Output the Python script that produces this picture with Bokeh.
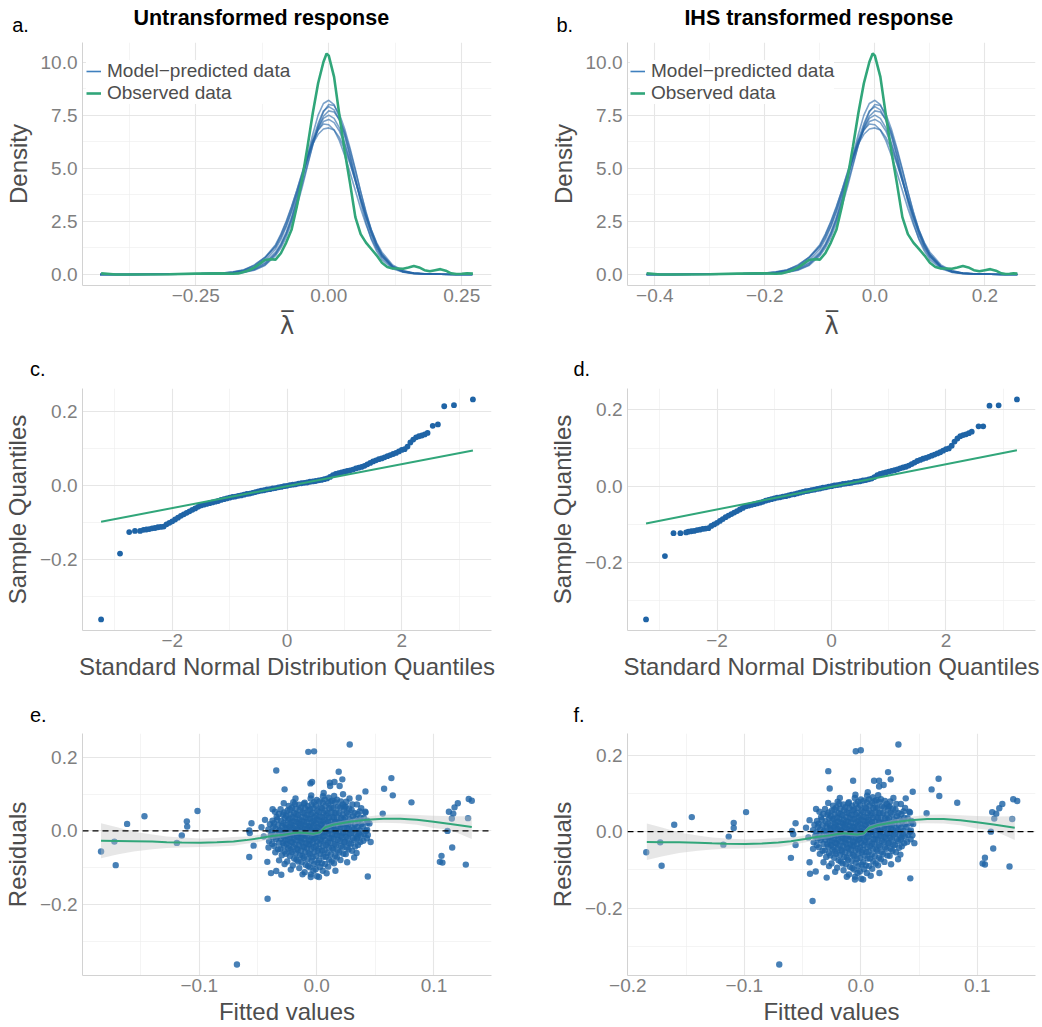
from bokeh.plotting import figure
from bokeh.layouts import column, row
from bokeh.models import (Range1d, FixedTicker, CustomJSTickFormatter,
                          Legend, LegendItem, Span)
from bokeh.core.properties import value
from bokeh.embed import file_html
from bokeh.resources import INLINE

# ---------------- data: density panels ----------------
obs_x_a = [-0.428, -0.40, -0.30, -0.25, -0.20, -0.18, -0.17, -0.16, -0.15, -0.14, -0.13, -0.12, -0.11,
           -0.10, -0.09, -0.08, -0.07, -0.06, -0.05, -0.04, -0.03, -0.02, -0.01, -0.004, 0.0, 0.01,
           0.02, 0.03, 0.04, 0.05, 0.06, 0.07, 0.08, 0.09, 0.10, 0.11, 0.12, 0.13, 0.14, 0.15, 0.16,
           0.17, 0.18, 0.19, 0.20, 0.21, 0.22, 0.23, 0.24, 0.25, 0.26, 0.271]
obs_x_b = [-0.415, -0.39, -0.30, -0.25, -0.20, -0.18, -0.17, -0.16, -0.15, -0.14, -0.13, -0.12, -0.11,
           -0.10, -0.09, -0.08, -0.07, -0.06, -0.05, -0.04, -0.03, -0.02, -0.01, -0.004, 0.0, 0.01,
           0.02, 0.03, 0.04, 0.05, 0.06, 0.07, 0.08, 0.09, 0.10, 0.11, 0.12, 0.13, 0.14, 0.15, 0.16,
           0.17, 0.18, 0.19, 0.20, 0.21, 0.22, 0.23, 0.238, 0.245, 0.252, 0.259]
obs_y = [0.05, 0.0, 0.01, 0.04, 0.05, 0.03, 0.05, 0.12, 0.2, 0.32, 0.5, 0.68, 0.72, 0.7, 1.0, 1.5,
         2.1, 3.2, 4.5, 6.0, 7.6, 9.0, 10.0, 10.4, 10.3, 9.3, 7.5, 5.8, 4.3, 2.7, 1.9, 1.5, 1.2, 0.9,
         0.55, 0.35, 0.28, 0.28, 0.27, 0.33, 0.4, 0.33, 0.2, 0.15, 0.2, 0.25, 0.18, 0.05, 0.02, 0.03,
         0.05, 0.04]

model_x_a = [-0.43, -0.38, -0.33, -0.28, -0.24, -0.20, -0.18, -0.16, -0.14, -0.12, -0.10, -0.09, -0.08,
             -0.07, -0.06, -0.05, -0.04, -0.03, -0.02, -0.01, 0.0, 0.01, 0.02, 0.03, 0.04, 0.05, 0.06,
             0.07, 0.08, 0.09, 0.10, 0.12, 0.14, 0.16, 0.18, 0.21, 0.24, 0.27]
model_x_b = [-0.415, -0.37, -0.33, -0.28, -0.24, -0.20, -0.18, -0.16, -0.14, -0.12, -0.10, -0.09, -0.08,
             -0.07, -0.06, -0.05, -0.04, -0.03, -0.02, -0.01, 0.0, 0.01, 0.02, 0.03, 0.04, 0.05, 0.06,
             0.07, 0.08, 0.09, 0.10, 0.12, 0.14, 0.16, 0.18, 0.21, 0.235, 0.259]
model_y1 = [0.0, 0.0, 0.01, 0.01, 0.02, 0.04, 0.06, 0.11, 0.22, 0.45, 0.95, 1.35, 1.9, 2.6, 3.5, 4.5, 5.6,
            6.6, 7.5, 8.05, 8.2, 8.0, 7.4, 6.6, 5.6, 4.5, 3.4, 2.45, 1.65, 1.1, 0.7, 0.27, 0.1, 0.04,
            0.02, 0.01, 0.0, 0.0]
model_y2 = [0.0, 0.0, 0.0, 0.01, 0.03, 0.05, 0.08, 0.14, 0.28, 0.55, 1.05, 1.45, 2.0, 2.7, 3.55, 4.5, 5.45,
            6.35, 7.1, 7.7, 7.9, 7.75, 7.25, 6.5, 5.6, 4.6, 3.6, 2.7, 1.9, 1.3, 0.85, 0.33, 0.12, 0.05,
            0.02, 0.01, 0.0, 0.0]
model_y3 = [0.0, 0.0, 0.01, 0.02, 0.03, 0.05, 0.07, 0.12, 0.25, 0.5, 0.98, 1.38, 1.9, 2.55, 3.35, 4.25,
            5.2, 6.1, 6.9, 7.45, 7.7, 7.65, 7.3, 6.7, 5.85, 4.9, 3.9, 2.95, 2.1, 1.45, 0.95, 0.38, 0.15,
            0.06, 0.03, 0.01, 0.0, 0.0]
model_y4 = [0.0, 0.0, 0.0, 0.01, 0.02, 0.05, 0.09, 0.17, 0.33, 0.65, 1.2, 1.65, 2.25, 2.95, 3.75, 4.6,
            5.45, 6.25, 6.9, 7.35, 7.5, 7.35, 6.9, 6.2, 5.35, 4.4, 3.5, 2.65, 1.9, 1.3, 0.87, 0.36, 0.14,
            0.06, 0.03, 0.01, 0.0, 0.0]
model_y5 = [0.0, 0.0, 0.01, 0.01, 0.03, 0.06, 0.1, 0.2, 0.45, 0.8, 1.3, 1.75, 2.3, 3.0, 3.8, 4.65, 5.45,
            6.2, 6.8, 7.2, 7.3, 7.15, 6.75, 6.1, 5.3, 4.45, 3.55, 2.75, 2.0, 1.4, 0.95, 0.4, 0.16, 0.07,
            0.03, 0.01, 0.0, 0.0]
model_y6 = [0.0, 0.0, 0.01, 0.02, 0.04, 0.07, 0.11, 0.2, 0.38, 0.75, 1.35, 1.85, 2.45, 3.15, 3.95, 4.8,
            5.6, 6.3, 6.8, 7.08, 7.05, 6.8, 6.3, 5.6, 4.8, 3.95, 3.1, 2.35, 1.7, 1.2, 0.8, 0.33, 0.13,
            0.05, 0.02, 0.01, 0.0, 0.0]
model_y7 = [0.0, 0.0, 0.01, 0.02, 0.04, 0.07, 0.12, 0.22, 0.42, 0.8, 1.4, 1.9, 2.5, 3.2, 3.95, 4.75,
            5.5, 6.15, 6.6, 6.85, 6.9, 6.8, 6.45, 5.9, 5.2, 4.4, 3.6, 2.8, 2.1, 1.5, 1.05, 0.45, 0.18,
            0.07, 0.03, 0.01, 0.0, 0.0]
model_y8 = [0.0, 0.0, 0.0, 0.01, 0.02, 0.03, 0.05, 0.09, 0.2, 0.42, 0.88, 1.25, 1.75, 2.4, 3.2, 4.1,
            5.1, 6.1, 7.0, 7.65, 8.0, 7.95, 7.55, 6.85, 5.95, 4.95, 3.9, 2.9, 2.05, 1.4, 0.92, 0.36,
            0.13, 0.05, 0.02, 0.01, 0.0, 0.0]
model_curves = [model_y1, model_y2, model_y3, model_y4, model_y5, model_y6, model_y7, model_y8]

# ---------------- data: QQ panels ----------------
qq_q = [-2.50, -2.45, -2.40, -2.35, -2.30, -2.25, -2.20, -2.15, -2.10, -2.05,
        -2.00, -1.95, -1.90, -1.85, -1.80, -1.75, -1.70, -1.65, -1.60, -1.55,
        -1.50, -1.45, -1.40, -1.35, -1.30, -1.25, -1.20, -1.15, -1.10, -1.05,
        -1.00, -0.95, -0.90, -0.85, -0.80, -0.75, -0.70, -0.65, -0.60, -0.55,
        -0.50, -0.45, -0.40, -0.35, -0.30, -0.25, -0.20, -0.15, -0.10, -0.05,
        0.00, 0.05, 0.10, 0.15, 0.20, 0.25, 0.30, 0.35, 0.40, 0.45,
        0.50, 0.55, 0.60, 0.65, 0.70, 0.75, 0.80, 0.85, 0.90, 0.95,
        1.00, 1.05, 1.10, 1.15, 1.20, 1.25, 1.30, 1.35, 1.40, 1.45,
        1.50, 1.55, 1.60, 1.65, 1.70, 1.75, 1.80, 1.85, 1.90, 1.95,
        2.00, 2.05, 2.10, 2.15, 2.20, 2.25, 2.30, 2.35, 2.40, 2.45]
qq_s = [-0.119, -0.118, -0.117, -0.115, -0.114, -0.112, -0.111, -0.110, -0.104, -0.100,
        -0.096, -0.091, -0.086, -0.081, -0.077, -0.073, -0.069, -0.065, -0.061, -0.057,
        -0.053, -0.051, -0.049, -0.047, -0.045, -0.043, -0.041, -0.038, -0.036, -0.034,
        -0.032, -0.030, -0.029, -0.027, -0.026, -0.024, -0.022, -0.021, -0.019, -0.017,
        -0.015, -0.013, -0.012, -0.010, -0.009, -0.007, -0.006, -0.004, -0.003, -0.001,
        0.000, 0.002, 0.003, 0.004, 0.006, 0.007, 0.008, 0.009, 0.011, 0.012,
        0.013, 0.015, 0.016, 0.018, 0.020, 0.024, 0.029, 0.032, 0.034, 0.036,
        0.038, 0.040, 0.042, 0.044, 0.047, 0.049, 0.051, 0.054, 0.058, 0.062,
        0.066, 0.069, 0.072, 0.074, 0.077, 0.080, 0.083, 0.086, 0.089, 0.093,
        0.097, 0.099, 0.106, 0.117, 0.125, 0.131, 0.134, 0.136, 0.139, 0.143]
qq_c_tail_q = [-3.24, -2.91, -2.75, -2.65, -2.56, 2.54, 2.63, 2.74, 2.91, 3.24]
qq_c_tail_s = [-0.361, -0.183, -0.125, -0.122, -0.122, 0.162, 0.166, 0.215, 0.218, 0.2335]
qq_d_tail_q = [-3.24, -2.91, -2.76, -2.64, -2.54, 2.57, 2.65, 2.76, 2.92, 3.24]
qq_d_tail_s = [-0.349, -0.183, -0.123, -0.123, -0.121, 0.157, 0.157, 0.211, 0.212, 0.2275]
qq_line_q = [-3.24, 3.24]
qq_line_c = [-0.097, 0.0955]
qq_line_d = [-0.0975, 0.094]

# ---------------- data: residual panels ----------------
resid_cloud = [
    (-0.0405, -0.028), (-0.0392, -0.012), (-0.0411, 0.004), (-0.0398, 0.018),
    (-0.0352, -0.058), (-0.0361, -0.041), (-0.0346, -0.022), (-0.0357, -0.008), (-0.0349, 0.006),
    (-0.0363, 0.021), (-0.0341, 0.038), (-0.0355, 0.052),
    (-0.0297, -0.066), (-0.0309, -0.049), (-0.0288, -0.033), (-0.0304, -0.021), (-0.0292, -0.009),
    (-0.0311, 0.002), (-0.0295, 0.013), (-0.0302, 0.027), (-0.0286, 0.044), (-0.0307, 0.059),
    (-0.0251, -0.083), (-0.0262, -0.062), (-0.0243, -0.047), (-0.0256, -0.035), (-0.0247, -0.024),
    (-0.0259, -0.013), (-0.0241, -0.004), (-0.0254, 0.006), (-0.0263, 0.016), (-0.0245, 0.029),
    (-0.0258, 0.041), (-0.0249, 0.055), (-0.0238, 0.068),
    (-0.0203, -0.094), (-0.0191, -0.075), (-0.0212, -0.058), (-0.0198, -0.044), (-0.0207, -0.031),
    (-0.0194, -0.021), (-0.0209, -0.011), (-0.0188, -0.002), (-0.0201, 0.008), (-0.0214, 0.017),
    (-0.0196, 0.026), (-0.0205, 0.037), (-0.0192, 0.049), (-0.0210, 0.063), (-0.0199, 0.078),
    (-0.0148, -0.101), (-0.0157, -0.083), (-0.0143, -0.066), (-0.0161, -0.052), (-0.0152, -0.038),
    (-0.0139, -0.027), (-0.0155, -0.017), (-0.0146, -0.007), (-0.0160, 0.003), (-0.0141, 0.012),
    (-0.0153, 0.021), (-0.0147, 0.031), (-0.0158, 0.043), (-0.0144, 0.056), (-0.0151, 0.071),
    (-0.0102, -0.112), (-0.0093, -0.092), (-0.0109, -0.073), (-0.0097, -0.057), (-0.0106, -0.044),
    (-0.0091, -0.033), (-0.0104, -0.022), (-0.0096, -0.012), (-0.0110, -0.003), (-0.0099, 0.006),
    (-0.0092, 0.015), (-0.0107, 0.025), (-0.0095, 0.036), (-0.0103, 0.048), (-0.0098, 0.062),
    (-0.0108, 0.074),
    (-0.0049, -0.118), (-0.0058, -0.099), (-0.0043, -0.081), (-0.0055, -0.064), (-0.0046, -0.049),
    (-0.0061, -0.037), (-0.0052, -0.026), (-0.0041, -0.016), (-0.0057, -0.006), (-0.0048, 0.003),
    (-0.0059, 0.012), (-0.0044, 0.022), (-0.0053, 0.033), (-0.0047, 0.045), (-0.0056, 0.058),
    (-0.0042, 0.072), (-0.0051, 0.088),
    (0.0003, -0.123), (-0.0008, -0.104), (0.0007, -0.086), (-0.0004, -0.069), (0.0009, -0.054),
    (-0.0006, -0.041), (0.0002, -0.029), (-0.0009, -0.018), (0.0005, -0.008), (-0.0003, 0.002),
    (0.0008, 0.011), (-0.0007, 0.021), (0.0004, 0.031), (-0.0002, 0.042), (0.0006, 0.055),
    (-0.0005, 0.069), (0.0001, 0.084),
    (0.0052, -0.108), (0.0044, -0.088), (0.0058, -0.070), (0.0047, -0.054), (0.0056, -0.040),
    (0.0041, -0.027), (0.0053, -0.015), (0.0046, -0.004), (0.0059, 0.006), (0.0043, 0.016),
    (0.0055, 0.026), (0.0049, 0.037), (0.0057, 0.049), (0.0045, 0.062), (0.0051, 0.077),
    (0.0054, 0.094),
    (0.0098, -0.097), (0.0107, -0.078), (0.0093, -0.060), (0.0104, -0.045), (0.0096, -0.031),
    (0.0109, -0.019), (0.0101, -0.008), (0.0092, 0.003), (0.0106, 0.014), (0.0097, 0.025),
    (0.0103, 0.036), (0.0094, 0.048), (0.0108, 0.061), (0.0099, 0.075), (0.0102, 0.090),
    (0.0148, -0.088), (0.0157, -0.068), (0.0143, -0.051), (0.0154, -0.036), (0.0146, -0.022),
    (0.0159, -0.010), (0.0151, 0.002), (0.0142, 0.013), (0.0156, 0.024), (0.0147, 0.036),
    (0.0153, 0.049), (0.0144, 0.063), (0.0158, 0.078), (0.0149, 0.095),
    (0.0203, -0.079), (0.0194, -0.058), (0.0208, -0.041), (0.0197, -0.027), (0.0206, -0.014),
    (0.0191, -0.002), (0.0204, 0.010), (0.0196, 0.022), (0.0209, 0.035), (0.0193, 0.049),
    (0.0201, 0.064), (0.0207, 0.080),
    (0.0248, -0.063), (0.0257, -0.045), (0.0243, -0.030), (0.0254, -0.016), (0.0246, -0.004),
    (0.0259, 0.008), (0.0251, 0.021), (0.0242, 0.035), (0.0256, 0.050), (0.0247, 0.066),
    (0.0253, 0.079),
    (0.0302, -0.054), (0.0293, -0.035), (0.0307, -0.019), (0.0296, -0.005), (0.0304, 0.009),
    (0.0291, 0.024), (0.0309, 0.040), (0.0298, 0.057), (0.0305, 0.072),
    (0.0352, -0.038), (0.0344, -0.021), (0.0358, -0.006), (0.0347, 0.010), (0.0355, 0.027),
    (0.0349, 0.046),
    (0.0398, -0.027), (0.0406, -0.009), (0.0393, 0.012), (0.0402, 0.035),
]
resid_core = [
    (-0.0378, -0.035), (-0.0371, -0.018), (-0.0382, -0.002), (-0.0369, 0.012), (-0.0376, 0.028),
    (-0.0328, -0.050), (-0.0321, -0.032), (-0.0333, -0.015), (-0.0319, 0.000), (-0.0327, 0.016),
    (-0.0335, 0.031), (-0.0322, 0.046),
    (-0.0272, -0.056), (-0.0279, -0.040), (-0.0268, -0.027), (-0.0281, -0.015), (-0.0274, -0.003),
    (-0.0266, 0.009), (-0.0283, 0.021), (-0.0271, 0.035), (-0.0277, 0.050),
    (-0.0228, -0.068), (-0.0221, -0.052), (-0.0233, -0.040), (-0.0219, -0.029), (-0.0226, -0.018),
    (-0.0231, -0.007), (-0.0218, 0.003), (-0.0229, 0.012), (-0.0222, 0.022), (-0.0234, 0.033),
    (-0.0224, 0.045), (-0.0227, 0.058),
    (-0.0172, -0.078), (-0.0179, -0.061), (-0.0168, -0.048), (-0.0181, -0.036), (-0.0174, -0.025),
    (-0.0166, -0.015), (-0.0183, -0.005), (-0.0171, 0.005), (-0.0177, 0.014), (-0.0169, 0.024),
    (-0.0182, 0.034), (-0.0173, 0.046), (-0.0178, 0.060),
    (-0.0128, -0.085), (-0.0121, -0.068), (-0.0133, -0.054), (-0.0119, -0.042), (-0.0126, -0.031),
    (-0.0131, -0.020), (-0.0118, -0.010), (-0.0129, 0.000), (-0.0122, 0.009), (-0.0134, 0.018),
    (-0.0124, 0.027), (-0.0127, 0.038), (-0.0120, 0.050), (-0.0132, 0.064),
    (-0.0072, -0.095), (-0.0079, -0.077), (-0.0068, -0.061), (-0.0081, -0.048), (-0.0074, -0.036),
    (-0.0066, -0.025), (-0.0083, -0.015), (-0.0071, -0.005), (-0.0077, 0.004), (-0.0069, 0.013),
    (-0.0082, 0.023), (-0.0073, 0.033), (-0.0078, 0.044), (-0.0070, 0.056), (-0.0076, 0.068),
    (-0.0028, -0.108), (-0.0021, -0.090), (-0.0033, -0.072), (-0.0019, -0.057), (-0.0026, -0.044),
    (-0.0031, -0.032), (-0.0018, -0.021), (-0.0029, -0.011), (-0.0022, -0.001), (-0.0034, 0.008),
    (-0.0024, 0.017), (-0.0027, 0.027), (-0.0020, 0.037), (-0.0032, 0.049), (-0.0025, 0.062),
    (-0.0023, 0.078),
    (0.0028, -0.098), (0.0021, -0.080), (0.0033, -0.063), (0.0019, -0.048), (0.0026, -0.035),
    (0.0031, -0.023), (0.0018, -0.012), (0.0029, -0.002), (0.0022, 0.008), (0.0034, 0.018),
    (0.0024, 0.028), (0.0027, 0.039), (0.0020, 0.051), (0.0032, 0.064), (0.0025, 0.080),
    (0.0072, -0.090), (0.0079, -0.070), (0.0068, -0.053), (0.0081, -0.038), (0.0074, -0.025),
    (0.0066, -0.013), (0.0083, -0.002), (0.0071, 0.009), (0.0077, 0.020), (0.0069, 0.031),
    (0.0082, 0.042), (0.0073, 0.055), (0.0078, 0.069), (0.0070, 0.085),
    (0.0128, -0.083), (0.0121, -0.064), (0.0133, -0.047), (0.0119, -0.033), (0.0126, -0.020),
    (0.0131, -0.008), (0.0118, 0.004), (0.0129, 0.015), (0.0122, 0.026), (0.0134, 0.038),
    (0.0124, 0.050), (0.0127, 0.064), (0.0120, 0.080),
    (0.0172, -0.072), (0.0179, -0.053), (0.0168, -0.038), (0.0181, -0.024), (0.0174, -0.011),
    (0.0166, 0.001), (0.0183, 0.013), (0.0171, 0.024), (0.0177, 0.036), (0.0169, 0.050),
    (0.0182, 0.066), (0.0173, 0.085),
    (0.0228, -0.062), (0.0221, -0.045), (0.0233, -0.030), (0.0219, -0.017), (0.0226, -0.005),
    (0.0231, 0.007), (0.0218, 0.019), (0.0229, 0.031), (0.0222, 0.044), (0.0234, 0.058),
    (0.0224, 0.072),
    (0.0272, -0.050), (0.0279, -0.034), (0.0268, -0.020), (0.0281, -0.007), (0.0274, 0.005),
    (0.0266, 0.018), (0.0283, 0.031), (0.0271, 0.045), (0.0277, 0.060),
    (0.0328, -0.042), (0.0321, -0.025), (0.0333, -0.010), (0.0319, 0.004), (0.0326, 0.018),
    (0.0331, 0.033), (0.0322, 0.049),
    (0.0372, -0.030), (0.0379, -0.013), (0.0368, 0.002), (0.0381, 0.019), (0.0374, 0.036),
    (0.0428, -0.020), (0.0421, 0.000), (0.0433, 0.022),
]
resid_fringe = [
    (0.0196, 0.122), (-0.0046, 0.0965), (0.006, 0.103), (0.0134, 0.082), (0.0236, 0.066),
    (0.0344, 0.072), (0.0367, 0.053), (0.0415, 0.052), (0.043, 0.003), (0.035, -0.015),
    (-0.0273, -0.090), (-0.022, -0.105), (-0.012, -0.118), (-0.005, -0.125), (0.002, -0.125),
    (0.0085, -0.115), (0.016, -0.108), (0.026, -0.085), (0.034, -0.060), (0.046, -0.030),
    (0.045, 0.020), (-0.045, -0.015), (-0.047, 0.010), (-0.044, 0.030), (-0.041, -0.045),
    (-0.032, -0.080), (-0.028, 0.075), (-0.018, 0.088), (0.028, 0.088), (0.032, -0.072),
    (0.038, 0.062), (-0.0185, 0.073), (-0.0102, 0.0767),
]
resid_e_out = [
    (-0.1837, -0.056), (-0.1723, -0.029), (-0.1712, -0.093), (-0.1615, 0.019), (-0.1467, 0.040),
    (-0.1191, -0.0325), (-0.1149, -0.0126), (-0.1106, 0.026), (-0.1103, 0.0117), (-0.1015, 0.054),
    (-0.0574, -0.071), (-0.0574, 0.001), (-0.057, -0.006), (-0.0555, 0.021), (-0.0537, -0.040),
    (-0.0679, -0.3627), (-0.0418, -0.184), (-0.042, -0.084), (-0.0389, -0.1145), (-0.0344, -0.109),
    (-0.0301, -0.119), (-0.0344, 0.164), (-0.0273, 0.1128), (-0.0375, 0.0587), (-0.0071, 0.2147),
    (-0.0022, 0.216), (0.0282, 0.2346), (0.0188, 0.1606), (0.0219, 0.140), (-0.0053, 0.129),
    (-0.0039, 0.133), (0.0112, 0.131), (0.0152, 0.133), (0.0115, 0.122), (0.0416, 0.1073),
    (0.0359, 0.090), (0.0225, 0.0995), (0.0637, 0.1434), (0.0575, 0.1146), (0.0649, 0.0965),
    (0.0808, 0.0776), (0.0563, 0.047), (0.0416, 0.0497), (0.043, 0.028), (0.0436, -0.011),
    (0.0436, -0.1236), (0.1127, 0.052), (0.1164, 0.047), (0.1175, 0.064), (0.1203, 0.075),
    (0.1152, 0.0335), (0.1115, 0.0), (0.1155, -0.045), (0.1064, -0.0677), (0.105, -0.084),
    (0.1072, -0.086), (0.1271, -0.0915), (0.1296, 0.0866), (0.1322, 0.082), (0.129, 0.0347),
]
resid_f_out = [
    (-0.1842, -0.054), (-0.1722, -0.028), (-0.171, -0.089), (-0.1602, 0.018), (-0.1451, 0.038),
    (-0.118, -0.034), (-0.1134, -0.013), (-0.1091, 0.023), (-0.1091, 0.0094), (-0.0985, 0.051),
    (-0.060, -0.0685), (-0.059, 0.002), (-0.058, -0.007), (-0.056, 0.022), (-0.056, -0.035),
    (-0.070, -0.347), (-0.0414, -0.181), (-0.044, -0.080), (-0.0436, -0.110), (-0.0387, -0.104),
    (-0.0293, -0.120), (-0.0279, 0.158), (-0.0267, 0.1125), (-0.0384, 0.059), (-0.0043, 0.210),
    (0.0, 0.2125), (0.0323, 0.2276), (0.0234, 0.1555), (0.0257, 0.1365), (-0.0066, 0.133),
    (0.0114, 0.133), (0.0157, 0.133), (0.0157, 0.118), (0.0446, 0.104), (0.0386, 0.087),
    (0.0608, 0.1103), (0.0668, 0.138), (0.0674, 0.093), (0.0828, 0.0756), (0.0565, 0.048),
    (0.0422, 0.050), (0.0434, 0.028), (0.0443, -0.0095), (0.0425, -0.122), (0.1128, 0.051),
    (0.1163, 0.047), (0.1189, 0.061), (0.1215, 0.072), (0.1146, 0.034), (0.1117, 0.0),
    (0.1137, -0.044), (0.1066, -0.068), (0.1046, -0.083), (0.1066, -0.086), (0.1277, -0.091),
    (0.1309, 0.0845), (0.1343, 0.080), (0.130, 0.033),
]
smooth_x = [-0.1837, -0.170, -0.156, -0.140, -0.1277, -0.115, -0.099, -0.085, -0.0708, -0.060, -0.048,
            -0.038, -0.0281, -0.020, -0.014, -0.008, -0.003, 0.0028, 0.0071, 0.0142, 0.020, 0.0285,
            0.0427, 0.057, 0.0712, 0.0854, 0.0997, 0.114, 0.1322]
smooth_y = [-0.027, -0.0275, -0.028, -0.029, -0.0305, -0.0315, -0.032, -0.031, -0.0285, -0.025, -0.0194,
            -0.014, -0.0104, -0.006, -0.004, -0.006, -0.0077, -0.004, 0.0095, 0.0167, 0.020, 0.0248,
            0.030, 0.0329, 0.0329, 0.030, 0.0248, 0.0185, 0.0104]
smooth_lo = [-0.074, -0.064, -0.056, -0.050, -0.0465, -0.045, -0.044, -0.0425, -0.0405, -0.035, -0.0285,
             -0.022, -0.017, -0.012, -0.010, -0.012, -0.013, -0.010, 0.003, 0.011, 0.014, 0.0175,
             0.021, 0.022, 0.021, 0.017, 0.008, 0.0027, -0.022]
smooth_hi = [0.021, 0.010, -0.002, -0.010, -0.015, -0.018, -0.0205, -0.0195, -0.0165, -0.015, -0.010,
             -0.006, -0.004, 0.000, 0.002, 0.000, -0.002, 0.002, 0.016, 0.0225, 0.026, 0.032, 0.039,
             0.044, 0.045, 0.043, 0.041, 0.0397, 0.040]

panel_letters = ["a.", "b.", "c.", "d.", "e.", "f."]
panel_titles = ["Untransformed response", "IHS transformed response"]

# ---------------- styling ----------------
FONT = "Liberation Sans"
GREEN = "#31a67a"
BAND = "#2766a6"
PT = "#1f64a6"
LAMBDA = "\u03bb\u0305"
NAN = float("nan")


def fmt(n):
    return CustomJSTickFormatter(
        code="return (tick < -1e-9 ? '\\u2212' : '') + Math.abs(tick).toFixed(%d);" % n)


def header(h, letters, lx, ly, titles=(), tx=(), ty=()):
    p = figure(width=1042, height=h, output_backend="svg", toolbar_location=None, title=None,
               x_range=Range1d(0, 1042), y_range=Range1d(h, 0),
               x_axis_location=None, y_axis_location=None,
               min_border_left=0, min_border_right=0, min_border_top=0, min_border_bottom=0)
    p.grid.visible = False
    p.outline_line_color = None
    p.text(x=lx, y=ly, text=letters, text_font=value(FONT), text_font_size="20px",
           text_color="black", text_baseline="alphabetic", text_align="left")
    if titles:
        p.text(x=list(tx), y=list(ty), text=list(titles), text_font=value(FONT),
               text_font_size="21.5px", text_font_style="bold", text_color="black",
               text_baseline="alphabetic", text_align="center")
    return p


def make_fig(w, h, bl, br, bb, xr, yr, xt, xm, yt, ym, xd, yd, xlab, ylab):
    p = figure(width=w, height=h, output_backend="svg", toolbar_location=None,
               x_range=Range1d(*xr), y_range=Range1d(*yr),
               min_border_left=bl, min_border_right=br, min_border_top=0, min_border_bottom=bb)
    p.outline_line_color = None
    p.background_fill_color = "white"
    p.border_fill_color = "white"
    p.xaxis.ticker = FixedTicker(ticks=xt, minor_ticks=xm)
    p.yaxis.ticker = FixedTicker(ticks=yt, minor_ticks=ym)
    p.xaxis.formatter = fmt(xd)
    p.yaxis.formatter = fmt(yd)
    for ax in (p.xaxis[0], p.yaxis[0]):
        ax.major_tick_line_color = None
        ax.minor_tick_line_color = None
        ax.major_tick_out = 0
        ax.major_tick_in = 0
        ax.minor_tick_out = 0
        ax.minor_tick_in = 0
        ax.axis_line_color = "#d2d2d2"
        ax.axis_line_width = 1
        ax.major_label_text_font = FONT
        ax.major_label_text_font_size = "19px"
        ax.major_label_text_color = "#7f7f7f"
        ax.axis_label_text_font = FONT
        ax.axis_label_text_font_size = "24px"
        ax.axis_label_text_font_style = "normal"
        ax.axis_label_text_color = "#4d4d4d"
    p.xaxis.major_label_standoff = 3
    p.yaxis.major_label_standoff = 5
    p.xaxis.axis_label_standoff = 3
    p.yaxis.axis_label_standoff = 6
    p.xaxis.axis_label = xlab
    p.yaxis.axis_label = ylab
    for g in (p.xgrid[0], p.ygrid[0]):
        g.grid_line_color = "#e6e6e6"
        g.grid_line_width = 1.1
        g.minor_grid_line_color = "#ededed"
        g.minor_grid_line_width = 0.6
    return p


def density_panel(w, bl, br, xr, xt, xm, xd, mx, ox, legx):
    p = make_fig(w, 303, bl, br, 60, xr, (-0.52, 10.92), xt, xm,
                 [0, 2.5, 5, 7.5, 10], [1.25, 3.75, 6.25, 8.75], xd, 1, LAMBDA, "Density")
    p.xaxis.axis_label_text_font = "DejaVu Sans"
    p.xaxis.axis_label_standoff = 7
    for ys in model_curves:
        p.line(mx, ys, line_color=BAND, line_alpha=0.6, line_width=1.6)
    r2 = p.line(ox, obs_y, line_color=GREEN, line_width=2.6)
    r1 = p.line([NAN], [NAN], line_color="#3f80be", line_width=1.6)
    leg = Legend(items=[LegendItem(label="Model\u2212predicted data", renderers=[r1]),
                        LegendItem(label="Observed data", renderers=[r2])],
                 location=(legx, 181), background_fill_color="white", background_fill_alpha=1.0,
                 border_line_color=None, label_text_font=FONT, label_text_font_size="19px",
                 label_text_color="#4d4d4d", glyph_width=15, glyph_height=20, label_height=20,
                 spacing=0, padding=7, margin=0, label_standoff=6)
    p.add_layout(leg)
    return p


pa = density_panel(520, 82, 29, (-0.463, 0.306), [-0.25, 0, 0.25], [-0.375, -0.125, 0.125], 2,
                   model_x_a, obs_x_a, 4)
pb = density_panel(522, 107, 7, (-0.4497, 0.292), [-0.4, -0.2, 0, 0.2], [-0.3, -0.1, 0.1], 1,
                   model_x_b, obs_x_b, 3)


def qq_panel(w, bl, br, yr, tail_q, tail_s, line_y):
    p = make_fig(w, 302, bl, br, 60, (-3.564, 3.564), yr, [-2, 0, 2], [-3, -1, 1, 3],
                 [-0.2, 0, 0.2], [-0.3, -0.1, 0.1], 0, 1,
                 "Standard Normal Distribution Quantiles", "Sample Quantiles")
    p.scatter(qq_q, qq_s, size=5.8, fill_color=PT, line_color=None)
    p.scatter(tail_q, tail_s, size=5.8, fill_color=PT, line_color=None)
    p.line(qq_line_q, line_y, line_color=GREEN, line_width=2)
    return p


pc = qq_panel(520, 82, 29, (-0.391, 0.263), qq_c_tail_q, qq_c_tail_s, qq_line_c)
pd_ = qq_panel(522, 107, 7, (-0.378, 0.256), qq_d_tail_q, qq_d_tail_s, qq_line_d)


def resid_panel(w, bl, br, xr, yr, xt, xm, outliers):
    p = make_fig(w, 294, bl, br, 51, xr, yr, xt, xm,
                 [-0.2, 0, 0.2], [-0.3, -0.1, 0.1], 1, 1, "Fitted values", "Residuals")
    pts = resid_cloud + resid_core + resid_fringe + outliers
    xs = [a for a, b in pts]
    ys = [b for a, b in pts]
    p.scatter(xs, ys, size=6.4, fill_color=PT, fill_alpha=0.82, line_color=None)
    p.varea(x=smooth_x, y1=smooth_lo, y2=smooth_hi, fill_color="#c4c4c4", fill_alpha=0.4)
    p.add_layout(Span(location=0, dimension="width", line_color="black",
                      line_dash="6 4", line_width=1.3))
    p.line(smooth_x, smooth_y, line_color=GREEN, line_width=2)
    return p


pe = resid_panel(520, 82, 29, (-0.1995, 0.149), (-0.3926, 0.2645), [-0.1, 0, 0.1],
                 [-0.15, -0.05, 0.05], resid_e_out)
pf = resid_panel(522, 107, 7, (-0.2003, 0.150), (-0.3757, 0.2563), [-0.2, -0.1, 0, 0.1],
                 [-0.15, -0.05, 0.05], resid_f_out)

h1 = header(42, panel_letters[0:2], [11.7, 556], [24.0, 24.0],
            panel_titles, [260.8, 818.3], [17.5, 17.5])
h2 = header(43, panel_letters[2:4], [29.5, 573], [23.0, 23.5])
h3 = header(43, panel_letters[4:6], [29.5, 573], [24.5, 24.5])

layout = column(h1, row(pa, pb), h2, row(pc, pd_), h3, row(pe, pf))

open("out.html", "w").write(file_html(layout, INLINE))
